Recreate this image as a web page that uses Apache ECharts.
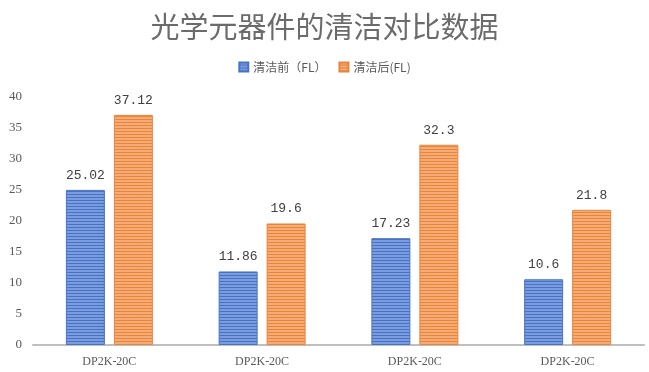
<!DOCTYPE html>
<html><head><meta charset="utf-8">
<script src="https://cdn.jsdelivr.net/npm/echarts@6/dist/echarts.min.js"></script>
<style>html,body{margin:0;padding:0;background:#fff}#c{width:649px;height:372px}</style>
</head><body><div id="c"></div>
<script>
const categories = ['DP2K-20C','DP2K-20C','DP2K-20C','DP2K-20C'];
const before = [25.02, 11.86, 17.23, 10.6];
const after = [37.12, 19.6, 32.3, 21.8];
const yTicks = [0,5,10,15,20,25,30,35,40];
const seriesNames = ['清洁前（FL）','清洁后(FL)'];

function stripePattern(base, dark){
  const cv = document.createElement('canvas');
  cv.width = 64; cv.height = 3;
  const ctx = cv.getContext('2d');
  ctx.fillStyle = base; ctx.fillRect(0,0,64,3);
  ctx.fillStyle = dark; ctx.fillRect(0,2,64,1);
  return {image: cv, repeat: 'repeat'};
}

const chart = echarts.init(document.getElementById('c'), null, {renderer:'canvas'});
const font = '"Noto Sans CJK SC", sans-serif';
const mono = '"Liberation Mono", monospace';
const serif = '"Liberation Serif", serif';
chart.setOption({
  animation:false,
  title:{text:'光学元器件的清洁对比数据', left:'center', top:7,
    textStyle:{fontFamily:font, fontSize:29, fontWeight:'normal', color:'#6b6b6b'}},
  legend:{top:56, left:'center', itemWidth:9, itemHeight:9, itemGap:12, icon:'rect',
    textStyle:{fontFamily:font, fontSize:12, color:'#595959'}, data:seriesNames},
  grid:{left:33, right:5, top:97, bottom:27},
  xAxis:{type:'category', data:categories,
    axisLine:{lineStyle:{color:'#bfbfbf', width:2}}, axisTick:{show:false},
    axisLabel:{fontFamily:serif, fontSize:12, color:'#595959', margin:11}},
  yAxis:{type:'value', min:0, max:40, interval:5,
    axisLine:{show:false}, axisTick:{show:false}, splitLine:{show:false},
    axisLabel:{fontFamily:serif, fontSize:13, color:'#595959', margin:11,
      formatter:v=>yTicks.includes(v)?String(v):''}},
  series:[
    {name:seriesNames[0], type:'bar', data:before, barWidth:39, barGap:'23%',
      itemStyle:{color:stripePattern('#7a9de0','#4a72c4'), borderColor:'#4a72c4', borderWidth:1},
      label:{show:true, position:'top', distance:8, fontFamily:mono, fontSize:13, color:'#404040'}},
    {name:seriesNames[1], type:'bar', data:after, barWidth:39,
      itemStyle:{color:stripePattern('#f6ac74','#e8853d'), borderColor:'#e8853d', borderWidth:1},
      label:{show:true, position:'top', distance:8, fontFamily:mono, fontSize:13, color:'#404040'}}
  ]
});
</script></body></html>
